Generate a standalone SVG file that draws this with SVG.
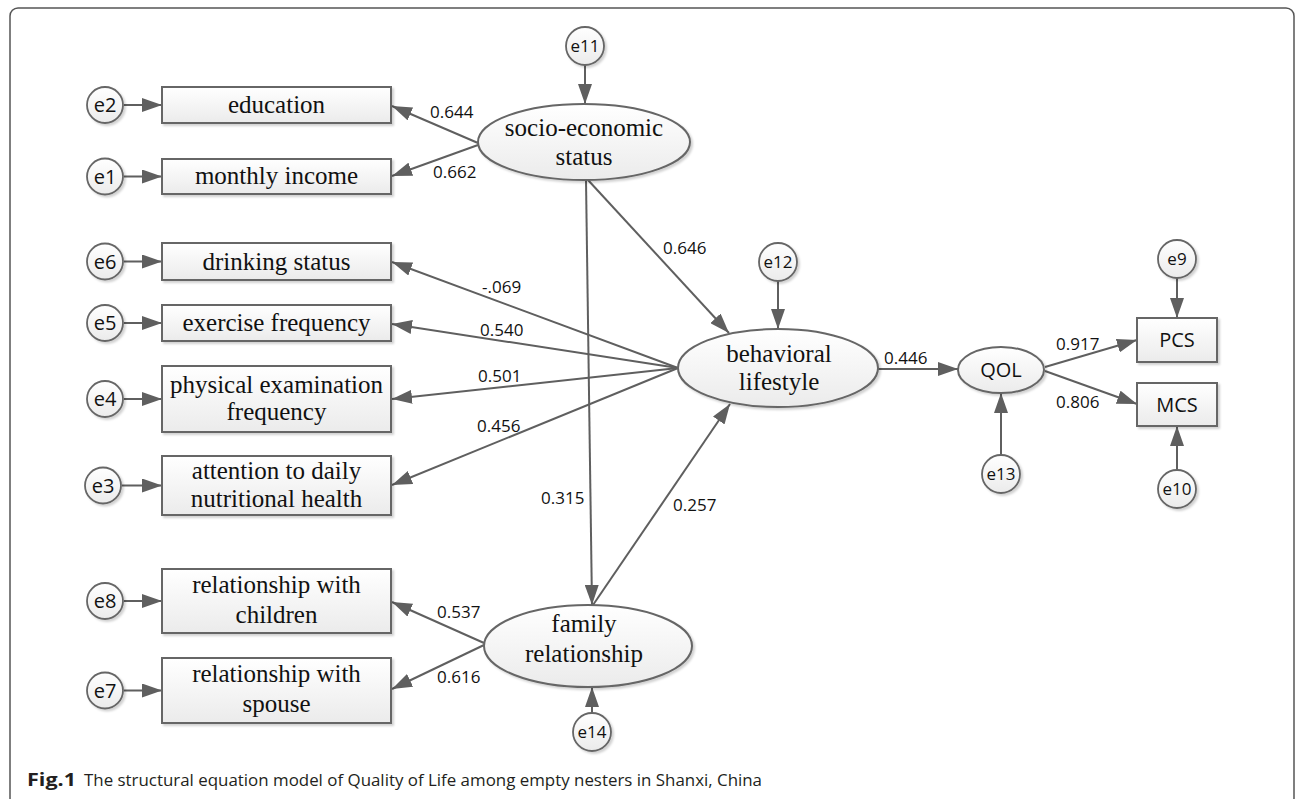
<svg xmlns="http://www.w3.org/2000/svg" width="1295" height="799" viewBox="0 0 1295 799">
<style>
.frame{fill:none;stroke:#555;stroke-width:1.5}
.node{fill:url(#g);stroke:#666;stroke-width:2;filter:url(#sh)}
.err{fill:url(#g);stroke:#666;stroke-width:1.8;filter:url(#sh)}
.lbl{font-family:"Times New Roman","Liberation Serif",serif;font-size:25px;fill:#111;text-anchor:middle}
.san{font-family:"Open Sans","Liberation Sans",sans-serif;font-size:20px;fill:#111;text-anchor:middle}
.es{font-family:"Open Sans","Liberation Sans",sans-serif;font-size:20px;fill:#111;text-anchor:middle}
.er{font-family:"Open Sans","Liberation Sans",sans-serif;font-size:17px;fill:#111;text-anchor:middle}
.num{font-family:"Open Sans","Liberation Sans",sans-serif;font-size:17px;fill:#111}
.cap{font-family:"Open Sans","Liberation Sans",sans-serif;font-size:17px;fill:#231f20}
#conn line{stroke:#5f5f5f;stroke-width:2;marker-end:url(#arr)}
</style>
<defs>
<linearGradient id="g" x1="0" y1="0" x2="0" y2="1">
<stop offset="0" stop-color="#ffffff"/>
<stop offset="1" stop-color="#ebebeb"/>
</linearGradient>
<filter id="sh" x="-10%" y="-10%" width="130%" height="140%">
<feDropShadow dx="2" dy="2" stdDeviation="1.2" flood-color="#000" flood-opacity="0.18"/>
</filter>
<marker id="arr" markerUnits="userSpaceOnUse" markerWidth="22" markerHeight="14" refX="20" refY="7" orient="auto">
<path d="M0,0 L20,7 L0,14 z" fill="#5f5f5f"/>
</marker>
</defs>
<rect width="1295" height="799" fill="#fff"/>
<rect class="frame" x="10" y="8" width="1284" height="798" rx="8"/>

<g id="conn">
<line x1="124" y1="105" x2="162" y2="105"/>
<line x1="124" y1="176.5" x2="162" y2="176.5"/>
<line x1="124" y1="261.5" x2="162" y2="261.5"/>
<line x1="124" y1="323" x2="162" y2="323"/>
<line x1="124" y1="399" x2="162" y2="399"/>
<line x1="122" y1="485.5" x2="162" y2="485.5"/>
<line x1="124" y1="601" x2="162" y2="601"/>
<line x1="124" y1="690.5" x2="162" y2="690.5"/>
<line x1="478" y1="143" x2="392" y2="106"/>
<line x1="478" y1="145" x2="392" y2="176"/>
<line x1="678" y1="368" x2="392" y2="262"/>
<line x1="678" y1="368" x2="392" y2="324"/>
<line x1="678" y1="368" x2="392" y2="399"/>
<line x1="678" y1="368" x2="392" y2="485"/>
<line x1="484" y1="643" x2="392" y2="602"/>
<line x1="484" y1="645" x2="392" y2="689"/>
<line x1="585" y1="65" x2="585" y2="104"/>
<line x1="588" y1="180" x2="729" y2="333"/>
<line x1="586" y1="180" x2="592" y2="605"/>
<line x1="593" y1="605" x2="730" y2="404"/>
<line x1="778" y1="281" x2="778" y2="329"/>
<line x1="878" y1="369" x2="958" y2="369"/>
<line x1="1001" y1="455" x2="1001" y2="393"/>
<line x1="1045" y1="367" x2="1137" y2="340"/>
<line x1="1045" y1="371" x2="1137" y2="404"/>
<line x1="1177" y1="278" x2="1177" y2="318"/>
<line x1="1177" y1="470" x2="1177" y2="426"/>
<line x1="592" y1="713" x2="592" y2="687"/>
</g>

<g id="labels">
<text class="num" x="430" y="118">0.644</text>
<text class="num" x="433" y="178">0.662</text>
<text class="num" x="663" y="254">0.646</text>
<text class="num" x="482" y="293">-.069</text>
<text class="num" x="480" y="336">0.540</text>
<text class="num" x="478" y="382">0.501</text>
<text class="num" x="477" y="432">0.456</text>
<text class="num" x="541" y="504">0.315</text>
<text class="num" x="673" y="511">0.257</text>
<text class="num" x="437" y="618">0.537</text>
<text class="num" x="437" y="683">0.616</text>
<text class="num" x="884" y="364">0.446</text>
<text class="num" x="1056" y="350">0.917</text>
<text class="num" x="1056" y="408">0.806</text>
</g>

<g id="education"><rect class="node" x="162" y="87" width="229" height="36"/><text class="lbl" x="276.5" y="113">education</text></g>
<g id="monthly-income"><rect class="node" x="162" y="159" width="229" height="35"/><text class="lbl" x="276.5" y="184">monthly income</text></g>
<g id="drinking-status"><rect class="node" x="162" y="243" width="229" height="37"/><text class="lbl" x="276.5" y="270">drinking status</text></g>
<g id="exercise-frequency"><rect class="node" x="162" y="305" width="229" height="36"/><text class="lbl" x="276.5" y="331">exercise frequency</text></g>
<g id="physical-examination"><rect class="node" x="162" y="366" width="229" height="66"/><text class="lbl" x="276.5" y="393">physical examination</text><text class="lbl" x="276.5" y="420">frequency</text></g>
<g id="attention"><rect class="node" x="162" y="456" width="229" height="59"/><text class="lbl" x="276.5" y="479">attention to daily</text><text class="lbl" x="276.5" y="507">nutritional health</text></g>
<g id="children"><rect class="node" x="162" y="569" width="229" height="64"/><text class="lbl" x="276.5" y="593">relationship with</text><text class="lbl" x="276.5" y="623">children</text></g>
<g id="spouse"><rect class="node" x="162" y="658" width="229" height="65"/><text class="lbl" x="276.5" y="682">relationship with</text><text class="lbl" x="276.5" y="712">spouse</text></g>

<g id="socio-economic"><ellipse class="node" cx="584" cy="142" rx="106" ry="38"/><text class="lbl" x="584" y="136">socio-economic</text><text class="lbl" x="584" y="165">status</text></g>
<g id="behavioral"><ellipse class="node" cx="778" cy="368" rx="100" ry="39"/><text class="lbl" x="779" y="362">behavioral</text><text class="lbl" x="779" y="390">lifestyle</text></g>
<g id="family"><ellipse class="node" cx="588" cy="646" rx="104" ry="41"/><text class="lbl" x="584" y="632">family</text><text class="lbl" x="584" y="662">relationship</text></g>
<g id="QOL"><ellipse class="node" cx="1001" cy="370" rx="43" ry="23"/><text class="san" x="1001" y="377">QOL</text></g>
<g id="PCS"><rect class="node" x="1137" y="318" width="80" height="44"/><text class="san" x="1177" y="347">PCS</text></g>
<g id="MCS"><rect class="node" x="1137" y="383" width="80" height="43"/><text class="san" x="1177" y="412">MCS</text></g>

<g id="e2"><circle class="err" cx="105" cy="105" r="18"/><text class="es" x="105" y="112">e2</text></g>
<g id="e1"><circle class="err" cx="105" cy="176.5" r="18"/><text class="es" x="105" y="183.5">e1</text></g>
<g id="e6"><circle class="err" cx="105" cy="261.5" r="18"/><text class="es" x="105" y="268.5">e6</text></g>
<g id="e5"><circle class="err" cx="105" cy="323" r="18"/><text class="es" x="105" y="330">e5</text></g>
<g id="e4"><circle class="err" cx="105" cy="399" r="18"/><text class="es" x="105" y="406">e4</text></g>
<g id="e3"><circle class="err" cx="103" cy="485.5" r="18"/><text class="es" x="103" y="492.5">e3</text></g>
<g id="e8"><circle class="err" cx="105" cy="601" r="18"/><text class="es" x="105" y="608">e8</text></g>
<g id="e7"><circle class="err" cx="105" cy="690.5" r="18"/><text class="es" x="105" y="697.5">e7</text></g>
<g id="e11"><circle class="err" cx="585" cy="46" r="19"/><text class="er" x="585" y="52">e11</text></g>
<g id="e12"><circle class="err" cx="778" cy="262" r="19"/><text class="er" x="778" y="268">e12</text></g>
<g id="e13"><circle class="err" cx="1001" cy="474" r="19"/><text class="er" x="1001" y="480">e13</text></g>
<g id="e14"><circle class="err" cx="592" cy="732" r="19"/><text class="er" x="592" y="738">e14</text></g>
<g id="e9"><circle class="err" cx="1177" cy="259" r="19"/><text class="er" x="1177" y="265">e9</text></g>
<g id="e10"><circle class="err" cx="1177" cy="489" r="19"/><text class="er" x="1177" y="495">e10</text></g>

<g id="caption">
<text class="cap" x="27" y="786" font-weight="bold" textLength="49" lengthAdjust="spacingAndGlyphs">Fig.1</text>
<text class="cap" x="84" y="786" textLength="678" lengthAdjust="spacingAndGlyphs">The structural equation model of Quality of Life among empty nesters in Shanxi, China</text>
</g>
</svg>
